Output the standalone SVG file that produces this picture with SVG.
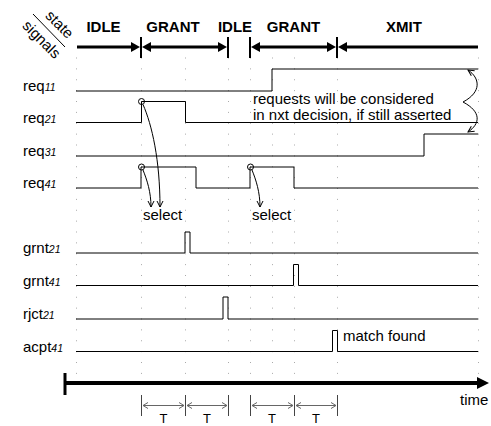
<svg xmlns="http://www.w3.org/2000/svg" width="491" height="426" viewBox="0 0 491 426">
<style>
text{font-family:"Liberation Sans",Arial,Helvetica,sans-serif;fill:#000}
.lbl{font-size:15px}
.sub{font-size:10.5px;font-style:italic}
.st{font-size:15px;font-weight:bold;text-anchor:middle}
.sig{fill:none;stroke:#000;stroke-width:1}
.grid{stroke:#aaa;stroke-width:1;stroke-dasharray:1 9.875}
.bar{stroke:#000;stroke-width:3;fill:none}
.tick{stroke:#000;stroke-width:2}
.thin{stroke:#444;stroke-width:1;fill:none}
.conn{fill:none;stroke:#000;stroke-width:1}
.tt{font-size:13px;text-anchor:middle}
</style>
<defs>
<marker id="oa" markerUnits="userSpaceOnUse" markerWidth="8" markerHeight="8" refX="6" refY="3" orient="auto-start-reverse" viewBox="-1 -1 8 8">
<path d="M0,0 L6,3 L0,6" fill="none" stroke="#000" stroke-width="1"/>
</marker>
<marker id="ta" markerUnits="userSpaceOnUse" markerWidth="7" markerHeight="8" refX="5" refY="3" orient="auto-start-reverse" viewBox="-1 -1 7 8">
<path d="M0,0 L5,3 L0,6" fill="none" stroke="#666" stroke-width="1"/>
</marker>
</defs>
<rect width="491" height="426" fill="#fff"/>

<g id="grid">
<line class="grid" x1="76.5" y1="57.5" x2="76.5" y2="375"/>
<line class="grid" x1="141.5" y1="57.5" x2="141.5" y2="375"/>
<line class="grid" x1="185.5" y1="57.5" x2="185.5" y2="375"/>
<line class="grid" x1="228.5" y1="57.5" x2="228.5" y2="375"/>
<line class="grid" x1="250.5" y1="57.5" x2="250.5" y2="375"/>
<line class="grid" x1="272.5" y1="57.5" x2="272.5" y2="375"/>
<line class="grid" x1="294.5" y1="57.5" x2="294.5" y2="375"/>
<line class="grid" x1="337.5" y1="57.5" x2="337.5" y2="375"/>
<line class="grid" x1="478.5" y1="57.5" x2="478.5" y2="375"/>
</g>

<g id="header">
<line x1="33" y1="14" x2="65" y2="47" stroke="#000" stroke-width="1"/>
<text class="lbl" transform="translate(56,28) rotate(45)" text-anchor="middle" font-size="14">state</text>
<text class="lbl" transform="translate(38,43) rotate(45)" text-anchor="middle" font-size="14">signals</text>
</g>

<g id="states">
<text class="st" x="103.5" y="31.5">IDLE</text>
<text class="st" x="173" y="31.5">GRANT</text>
<text class="st" x="235" y="31.5">IDLE</text>
<text class="st" x="293.5" y="31.5">GRANT</text>
<text class="st" x="404" y="31.5">XMIT</text>
<line class="bar" x1="77" y1="47" x2="133" y2="47"/>
<polygon points="140,47 131,42 131,52"/>
<line class="bar" x1="149" y1="47" x2="220" y2="47"/>
<polygon points="142,47 151,42 151,52"/>
<polygon points="227,47 218,42 218,52"/>
<line class="bar" x1="258" y1="47" x2="329" y2="47"/>
<polygon points="251,47 260,42 260,52"/>
<polygon points="336,47 327,42 327,52"/>
<line class="bar" x1="345" y1="47" x2="478" y2="47"/>
<polygon points="338,47 347,42 347,52"/>
<line class="tick" x1="141" y1="37" x2="141" y2="58"/>
<line class="tick" x1="228" y1="37" x2="228" y2="58"/>
<line class="tick" x1="250" y1="37" x2="250" y2="58"/>
<line class="tick" x1="337" y1="37" x2="337" y2="58"/>
</g>

<g id="req11">
<text class="lbl" x="23" y="91">req<tspan class="sub">11</tspan></text>
<path class="sig" d="M76,91 H272 V69 H478"/>
</g>
<g id="req21">
<text class="lbl" x="23" y="123">req<tspan class="sub">21</tspan></text>
<path class="sig" d="M76,122.5 H141.5 V101.5 H185.5 V122.5 H478"/>
</g>
<g id="req31">
<text class="lbl" x="23" y="156">req<tspan class="sub">31</tspan></text>
<path class="sig" d="M76,156 H424 V134 H478"/>
</g>
<g id="req41">
<text class="lbl" x="23" y="188">req<tspan class="sub">41</tspan></text>
<path class="sig" d="M76,188 H141 V167 H196 V188 H250 V167 H294 V188 H478"/>
</g>
<g id="grnt21">
<text class="lbl" x="23" y="253">grnt<tspan class="sub">21</tspan></text>
<path class="sig" d="M76,253 H185 V232 H190 V253 H478"/>
</g>
<g id="grnt41">
<text class="lbl" x="23" y="286">grnt<tspan class="sub">41</tspan></text>
<path class="sig" d="M76,285.5 H293.5 V264.5 H298.5 V285.5 H478"/>
</g>
<g id="rjct21">
<text class="lbl" x="23" y="319">rjct<tspan class="sub">21</tspan></text>
<path class="sig" d="M76,319 H223 V297 H228 V319 H478"/>
</g>
<g id="acpt41">
<text class="lbl" x="23" y="352">acpt<tspan class="sub">41</tspan></text>
<path class="sig" d="M76,351.5 H332.5 V330.5 H337.5 V351.5 H478"/>
</g>

<g id="notes">
<text class="lbl" x="253" y="103.5">requests will be considered</text>
<text class="lbl" x="253" y="119.5">in nxt decision, if still asserted</text>
<text class="lbl" x="143" y="220">select</text>
<text class="lbl" x="252" y="220">select</text>
<text class="lbl" x="343" y="341">match found</text>
</g>

<g id="connectors">
<circle cx="141.5" cy="101.5" r="3" fill="none" stroke="#000"/>
<circle cx="141.5" cy="167" r="3" fill="none" stroke="#000"/>
<circle cx="250.5" cy="167" r="3" fill="none" stroke="#000"/>
<path class="conn" d="M143,104.5 C152,125 160,160 160,207" marker-end="url(#oa)"/>
<path class="conn" d="M143,170 C147,180 151,192 151,207" marker-end="url(#oa)"/>
<path class="conn" d="M252,170 C256,180 260,192 260,207" marker-end="url(#oa)"/>
<path class="conn" d="M468,70 C480,78 482,92 463,102 C482,112 480,124 468,132" marker-start="url(#oa)" marker-end="url(#oa)"/>
</g>

<g id="timeaxis">
<line x1="65" y1="383" x2="480" y2="383" stroke="#000" stroke-width="4"/>
<polygon points="489,383 477,377 477,389"/>
<line x1="65" y1="373" x2="65" y2="395" stroke="#000" stroke-width="3"/>
<text class="lbl" x="460" y="405">time</text>
</g>

<g id="periods">
<line class="thin" x1="141.5" y1="395" x2="141.5" y2="416"/>
<line class="thin" x1="185.5" y1="395" x2="185.5" y2="416"/>
<line class="thin" x1="228.5" y1="395" x2="228.5" y2="416"/>
<line class="thin" x1="250.5" y1="395" x2="250.5" y2="416"/>
<line class="thin" x1="294.5" y1="395" x2="294.5" y2="416"/>
<line class="thin" x1="337.5" y1="395" x2="337.5" y2="416"/>
<line x1="143" y1="405.5" x2="184" y2="405.5" stroke="#666" marker-start="url(#ta)" marker-end="url(#ta)"/>
<line x1="187" y1="405.5" x2="227" y2="405.5" stroke="#666" marker-start="url(#ta)" marker-end="url(#ta)"/>
<line x1="252" y1="405.5" x2="293" y2="405.5" stroke="#666" marker-start="url(#ta)" marker-end="url(#ta)"/>
<line x1="296" y1="405.5" x2="336" y2="405.5" stroke="#666" marker-start="url(#ta)" marker-end="url(#ta)"/>
<text class="tt" x="163.5" y="422.5">T</text>
<text class="tt" x="207" y="422.5">T</text>
<text class="tt" x="272" y="422.5">T</text>
<text class="tt" x="316" y="422.5">T</text>
</g>
</svg>
